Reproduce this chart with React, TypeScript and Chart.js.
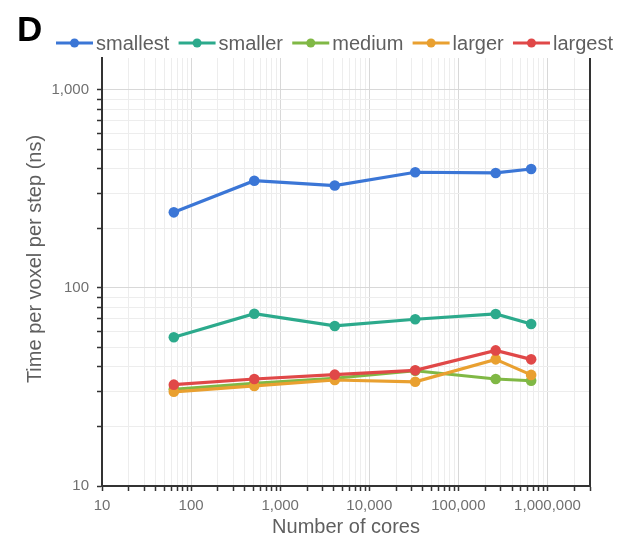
import React, { useEffect, useRef } from 'react';
import { Chart, registerables } from 'chart.js';

Chart.register(...registerables);

// ---- data ----
const cores = [64, 512, 4096, 32768, 262144, 655360];
const smallest = [241, 348, 329, 384, 381, 399];
const smaller = [56.4, 74.1, 64.3, 69.5, 73.9, 65.8];
const medium = [30.8, 33.0, 35.0, 38.2, 34.7, 34.0];
const larger = [29.9, 32.0, 34.3, 33.6, 43.6, 36.4];
const largest = [32.5, 34.7, 36.5, 38.4, 48.4, 43.6];

const seriesNames = ['smallest', 'smaller', 'medium', 'larger', 'largest'];
const seriesValues = [smallest, smaller, medium, larger, largest];
const seriesColors = ['#3b76d6', '#2caa8c', '#80b845', '#e9a030', '#e04848'];

const xTickLabels = [10, 100, 1000, 10000, 100000, 1000000];
const yTickLabels = [10, 100, 1000];
const xMin = 10;
const xMax = 3000000;
const yMin = 10;
const yMax = 1450;
const yTitle = 'Time per voxel per step (ns)';

const FONT = '"Liberation Sans", Arial, Helvetica, sans-serif';

function isPow10(v: number) {
  const l = Math.log10(v);
  return Math.abs(l - Math.round(l)) < 1e-9;
}

function logTicks(min: number, max: number) {
  const out: number[] = [];
  for (let p = Math.floor(Math.log10(min)); Math.pow(10, p) <= max; p++) {
    for (let m = 1; m <= 9; m++) {
      const v = m * Math.pow(10, p);
      if (v >= min - 1e-9 && v <= max + 1e-9) out.push(v);
    }
  }
  return out;
}

const fmt = (v: number) => v.toLocaleString('en-US');

const overlayPlugin = {
  id: 'overlay',
  afterDraw(chart: any) {
    const { ctx, chartArea } = chart;
    ctx.save();
    // right frame line
    ctx.strokeStyle = '#333333';
    ctx.lineWidth = 2;
    ctx.beginPath();
    ctx.moveTo(chartArea.right, chartArea.top);
    ctx.lineTo(chartArea.right, chartArea.bottom + 1);
    ctx.stroke();

    // panel letter
    ctx.fillStyle = '#000000';
    ctx.font = `bold 35px ${FONT}`;
    ctx.textAlign = 'left';
    ctx.textBaseline = 'alphabetic';
    ctx.fillText('D', 17, 41);

    // y axis title
    ctx.save();
    ctx.translate(35, 259);
    ctx.rotate(-Math.PI / 2);
    ctx.font = `20px ${FONT}`;
    ctx.fillStyle = '#5f5f5f';
    ctx.textAlign = 'center';
    ctx.textBaseline = 'middle';
    ctx.fillText(yTitle, 0, 0);
    ctx.restore();

    // legend
    ctx.font = `20px ${FONT}`;
    ctx.textAlign = 'left';
    const lineLen = 37;
    const gap = 3;
    const startX = 56;
    const endX = 613;
    const y = 43;
    const widths = chart.data.datasets.map((d: any) => ctx.measureText(d.label).width);
    const total = widths.reduce((a: number, b: number) => a + b, 0) + widths.length * (lineLen + gap);
    const spacing = (endX - startX - total) / (widths.length - 1);
    let x = startX;
    chart.data.datasets.forEach((d: any, i: number) => {
      ctx.strokeStyle = d.borderColor;
      ctx.lineWidth = 3;
      ctx.beginPath();
      ctx.moveTo(x, y);
      ctx.lineTo(x + lineLen, y);
      ctx.stroke();
      ctx.fillStyle = d.borderColor;
      ctx.beginPath();
      ctx.arc(x + lineLen / 2, y, 4.5, 0, Math.PI * 2);
      ctx.fill();
      ctx.fillStyle = '#5f5f5f';
      ctx.textBaseline = 'middle';
      ctx.fillText(d.label, x + lineLen + gap, y + 1);
      x += lineLen + gap + widths[i] + spacing;
    });
    ctx.restore();
  },
};

export default function App() {
  const ref = useRef<HTMLCanvasElement | null>(null);

  useEffect(() => {
    if (!ref.current) return;
    const datasets = seriesNames.map((name, i) => ({
      label: name,
      data: cores.map((c, j) => ({ x: c, y: seriesValues[i][j] })),
      borderColor: seriesColors[i],
      backgroundColor: seriesColors[i],
      pointBackgroundColor: seriesColors[i],
      pointBorderColor: seriesColors[i],
      borderWidth: 3.2,
      pointRadius: 5.3,
      pointBorderWidth: 0,
      tension: 0,
      order: seriesNames.length - 1 - i,
    }));

    const gridColor = (c: any) => {
      const v = c.tick ? c.tick.value : 0;
      return v && isPow10(v) ? '#d8d8d8' : '#ededed';
    };

    const chart = new Chart(ref.current, {
      type: 'line',
      data: { datasets },
      options: {
        animation: false,
        responsive: false,
        devicePixelRatio: 1,
        layout: { padding: { top: 58, right: 41, left: 0, bottom: 0 } },
        plugins: {
          legend: { display: false },
          tooltip: { enabled: false },
        },
        scales: {
          x: {
            type: 'logarithmic',
            min: xMin,
            max: xMax,
            afterBuildTicks: (s: any) => {
              s.ticks = logTicks(xMin, xMax).map((v) => ({ value: v, major: isPow10(v) }));
            },
            afterFit: (s: any) => {
              s.height = 60;
            },
            ticks: {
              autoSkip: false,
              maxRotation: 0,
              minRotation: 0,
              padding: 6,
              color: '#707070',
              font: { family: FONT, size: 15 },
              callback: (v: any) => (xTickLabels.includes(Number(v)) ? fmt(Number(v)) : ''),
            },
            grid: {
              color: gridColor,
              lineWidth: 1,
              tickColor: '#333333',
              tickLength: 5,
              tickWidth: 1.5,
            },
            border: { color: '#333333', width: 2 },
            title: {
              display: true,
              text: 'Number of cores',
              color: '#5f5f5f',
              font: { family: FONT, size: 20 },
              padding: { top: 0, bottom: 7 },
            },
          },
          y: {
            type: 'logarithmic',
            min: yMin,
            max: yMax,
            afterBuildTicks: (s: any) => {
              s.ticks = logTicks(yMin, yMax).map((v) => ({ value: v, major: isPow10(v) }));
            },
            afterFit: (s: any) => {
              s.width = 102;
            },
            ticks: {
              autoSkip: false,
              padding: 8,
              color: '#707070',
              font: { family: FONT, size: 15 },
              callback: (v: any) => (yTickLabels.includes(Number(v)) ? fmt(Number(v)) : ''),
            },
            grid: {
              color: gridColor,
              lineWidth: 1,
              tickColor: '#333333',
              tickLength: 5,
              tickWidth: 1.5,
            },
            border: { color: '#333333', width: 2 },
            title: { display: false, text: yTitle },
          },
        },
      },
      plugins: [overlayPlugin],
    } as any);

    return () => chart.destroy();
  }, []);

  return (
    <div style={{ position: 'absolute', left: 0, top: 0, width: 631, height: 546, background: '#ffffff' }}>
      <canvas ref={ref} width={631} height={546} style={{ display: 'block', width: 631, height: 546 }} />
    </div>
  );
}
